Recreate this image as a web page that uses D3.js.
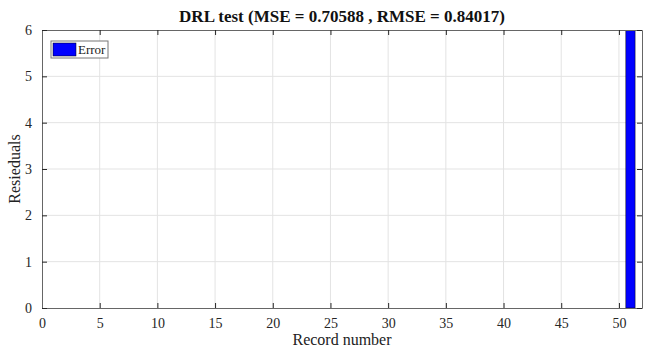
<!DOCTYPE html>
<html>
<head>
<meta charset="utf-8">
<script src="https://cdn.jsdelivr.net/npm/d3@7"></script>
<style>
  body { margin: 0; background: #fff; }
</style>
</head>
<body>
<div class="chart"></div>
<script>
var svgWidth = 656;
var svgHeight = 350;
var serif = "'Liberation Serif', 'Times New Roman', serif";

var margin = { top: 30, right: 14, bottom: 42, left: 42 };
var width = svgWidth - margin.left - margin.right;
var height = svgHeight - margin.top - margin.bottom;

// Data
var records = [1, 2, 3, 4, 5, 6, 7, 8, 9, 10, 11, 12, 13, 14, 15, 16, 17,
  18, 19, 20, 21, 22, 23, 24, 25, 26, 27, 28, 29, 30, 31, 32, 33, 34,
  35, 36, 37, 38, 39, 40, 41, 42, 43, 44, 45, 46, 47, 48, 49, 50, 51];
var residuals = [0, 0, 0, 0, 0, 0, 0, 0, 0, 0, 0, 0, 0, 0, 0, 0, 0,
  0, 0, 0, 0, 0, 0, 0, 0, 0, 0, 0, 0, 0, 0, 0, 0, 0,
  0, 0, 0, 0, 0, 0, 0, 0, 0, 0, 0, 0, 0, 0, 0, 0, 6];
var xTicks = [0, 5, 10, 15, 20, 25, 30, 35, 40, 45, 50];
var yTicks = [0, 1, 2, 3, 4, 5, 6];
var titleText = "DRL test (MSE = 0.70588 , RMSE = 0.84017)";
var seriesName = "Error";

var svg = d3.select(".chart")
  .append("svg")
  .attr("width", svgWidth)
  .attr("height", svgHeight);

var chartGroup = svg.append("g")
  .attr("transform", `translate(${margin.left}, ${margin.top})`);

// Scales
var xScale = d3.scaleLinear().domain([0, 52]).range([0, width]);
var yScale = d3.scaleLinear().domain([0, 6]).range([height, 0]);
var barW = xScale(0.8) - xScale(0);

// Grid
chartGroup.selectAll(".xgrid")
  .data(xTicks.slice(1))
  .enter().append("line")
  .attr("x1", d => xScale(d)).attr("x2", d => xScale(d))
  .attr("y1", 0).attr("y2", height)
  .attr("stroke", "#e3e3e3").attr("stroke-width", 1);

chartGroup.selectAll(".ygrid")
  .data(yTicks.slice(1, -1))
  .enter().append("line")
  .attr("x1", 0).attr("x2", width)
  .attr("y1", d => yScale(d)).attr("y2", d => yScale(d))
  .attr("stroke", "#e3e3e3").attr("stroke-width", 1);

// Bars
chartGroup.append("clipPath").attr("id", "clip")
  .append("rect").attr("width", width).attr("height", height);

chartGroup.append("g").attr("clip-path", "url(#clip)")
  .selectAll("rect")
  .data(records.map((r, i) => ({ x: r, y: residuals[i] })))
  .enter().append("rect")
  .attr("x", d => xScale(d.x) - barW / 2)
  .attr("width", barW)
  .attr("y", d => yScale(Math.max(0, d.y)))
  .attr("height", d => Math.abs(yScale(d.y) - yScale(0)))
  .attr("fill", "#0000ff")
  .attr("stroke", "#000")
  .attr("stroke-width", 0.5);

// Axes (MATLAB style: ticks inside, box on)
var tickLen = 5;
var bottomAxis = d3.axisBottom(xScale).tickValues(xTicks).tickSizeInner(-tickLen).tickSizeOuter(0).tickPadding(10).tickFormat(d3.format("d"));
var topAxis = d3.axisTop(xScale).tickValues(xTicks).tickSizeInner(-tickLen).tickSizeOuter(0).tickFormat("");
var leftAxis = d3.axisLeft(yScale).tickValues(yTicks).tickSizeInner(-tickLen).tickSizeOuter(0).tickPadding(10).tickFormat(d3.format("d"));
var rightAxis = d3.axisRight(yScale).tickValues(yTicks).tickSizeInner(-tickLen).tickSizeOuter(0).tickFormat("");

function styleAxis(g) {
  g.attr("font-family", null).attr("font-size", null);
  g.select(".domain").attr("stroke", "#666");
  g.selectAll(".tick line").attr("stroke", "#262626");
  g.selectAll(".tick text")
    .style("font-family", serif)
    .style("font-size", "14px")
    .attr("fill", "#262626");
}

chartGroup.append("g").attr("transform", `translate(0, ${height})`).call(bottomAxis).call(styleAxis);
chartGroup.append("g").call(topAxis).call(styleAxis);
chartGroup.append("g").call(leftAxis).call(styleAxis);
chartGroup.append("g").attr("transform", `translate(${width}, 0)`).call(rightAxis).call(styleAxis);

// Legend
var legend = chartGroup.append("g").attr("transform", "translate(9, 11)");
legend.append("rect")
  .attr("width", 57).attr("height", 17)
  .attr("fill", "#fff").attr("stroke", "#777").attr("stroke-width", 1);
legend.append("rect")
  .attr("x", 2).attr("y", 2).attr("width", 23).attr("height", 13)
  .attr("fill", "#0000ff").attr("stroke", "#000").attr("stroke-width", 0.5);
legend.append("text")
  .attr("x", 27).attr("y", 13)
  .style("font-family", serif).style("font-size", "13px")
  .attr("fill", "#222")
  .text(seriesName);

// Title and axis labels
svg.append("text")
  .attr("x", margin.left + width / 2).attr("y", 22)
  .attr("text-anchor", "middle")
  .style("font-family", serif).style("font-size", "17px").style("font-weight", "bold")
  .attr("fill", "#111")
  .text(titleText);

svg.append("text")
  .attr("x", margin.left + width / 2).attr("y", 345)
  .attr("text-anchor", "middle")
  .style("font-family", serif).style("font-size", "16px")
  .attr("fill", "#222")
  .text("Record number");

svg.append("text")
  .attr("transform", `translate(20, ${margin.top + height / 2}) rotate(-90)`)
  .attr("text-anchor", "middle")
  .style("font-family", serif).style("font-size", "16px")
  .attr("fill", "#222")
  .text("Resieduals");
</script>
</body>
</html>
